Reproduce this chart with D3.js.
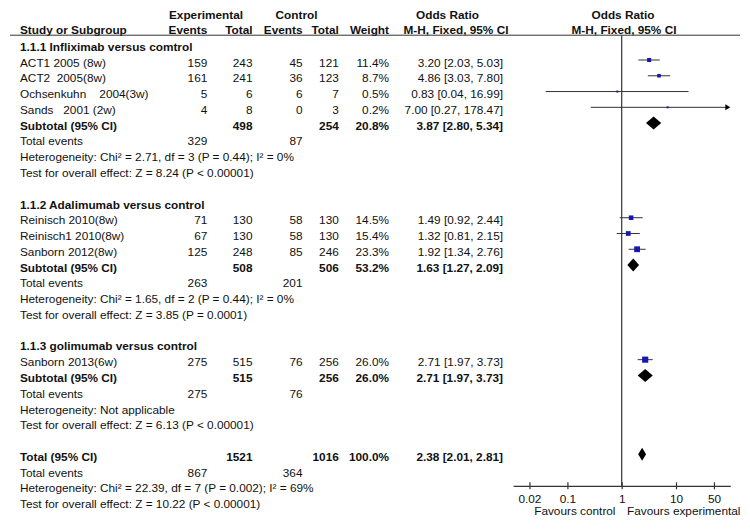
<!DOCTYPE html>
<html>
<head>
<meta charset="utf-8">
<script src="https://cdn.jsdelivr.net/npm/d3@7"></script>
<style>
  html, body { margin: 0; padding: 0; background: #fff; }
  svg text { font-family: "Liberation Sans", Arial, sans-serif; font-size: 11.8px; fill: #111; white-space: pre; }
  .b { font-weight: bold; }
</style>
</head>
<body>
<svg id="chart" width="750" height="529"></svg>
<script>
// ---- data ----
const studies = ["ACT1 2005 (8w)", "ACT2  2005(8w)", "Ochsenkuhn    2004(3w)", "Sands   2001 (2w)",
                 "Reinisch 2010(8w)", "Reinisch1 2010(8w)", "Sanborn 2012(8w)", "Sanborn 2013(6w)"];
const studyGroup = [0, 0, 0, 0, 1, 1, 1, 2];
const expEvents = [159, 161, 5, 4, 71, 67, 125, 275];
const expTotal  = [243, 241, 6, 8, 130, 130, 248, 515];
const ctlEvents = [45, 36, 6, 0, 58, 58, 85, 76];
const ctlTotal  = [121, 123, 7, 3, 130, 130, 246, 256];
const weights   = [11.4, 8.7, 0.5, 0.2, 14.5, 15.4, 23.3, 26.0];
const oddsRatio = [3.20, 4.86, 0.83, 7.00, 1.49, 1.32, 1.92, 2.71];
const ciLow     = [2.03, 3.03, 0.04, 0.27, 0.92, 0.81, 1.34, 1.97];
const ciHigh    = [5.03, 7.80, 16.99, 178.47, 2.44, 2.15, 2.76, 3.73];

const groupTitles   = ["1.1.1 Infliximab versus comtrol", "1.1.2 Adalimumab versus control", "1.1.3 golimumab versus control"];
const subExpTotal   = [498, 508, 515];
const subCtlTotal   = [254, 506, 256];
const subWeight     = [20.8, 53.2, 26.0];
const subOR         = [3.87, 1.63, 2.71];
const subLow        = [2.80, 1.27, 1.97];
const subHigh       = [5.34, 2.09, 3.73];
const subExpEvents  = [329, 263, 275];
const subCtlEvents  = [87, 201, 76];
const subHet = ["Heterogeneity: Chi\u00b2 = 2.71, df = 3 (P = 0.44); I\u00b2 = 0%",
                "Heterogeneity: Chi\u00b2 = 1.65, df = 2 (P = 0.44); I\u00b2 = 0%",
                "Heterogeneity: Not applicable"];
const subTest = ["Test for overall effect: Z = 8.24 (P < 0.00001)",
                 "Test for overall effect: Z = 3.85 (P = 0.0001)",
                 "Test for overall effect: Z = 6.13 (P < 0.00001)"];

const totalExpTotal = 1521, totalCtlTotal = 1016, totalWeight = 100.0;
const totalOR = 2.38, totalLow = 2.01, totalHigh = 2.81;
const totalExpEvents = 867, totalCtlEvents = 364;
const totalHet  = "Heterogeneity: Chi\u00b2 = 22.39, df = 7 (P = 0.002); I\u00b2 = 69%";
const totalTest = "Test for overall effect: Z = 10.22 (P < 0.00001)";

const tickValues = [0.02, 0.1, 1, 10, 50];
const tickLabels = ["0.02", "0.1", "1", "10", "50"];
const axisDomain = [0.01, 100];

// ---- layout ----
const svg = d3.select("#chart");
const rowY = d3.scaleLinear().domain([3, 28]).range([60, 454.3]);   // row centre
const x = d3.scaleLog().domain(axisDomain).range([513.1, 730.3]);
const colX = { label: 20, expEv: 207.3, expTot: 252.5, ctlEv: 302.5, ctlTot: 338.8, weight: 389, or: 503 };
const textOff = 6.6;
const blue = "#1616b4", ink = "#333";
const fmt2 = d3.format(".2f"), fmt1 = d3.format(".1f");
const orText = (o, l, h) => `${fmt2(o)} [${fmt2(l)}, ${fmt2(h)}]`;

function txt(xp, y, s, anchor, bold) {
  svg.append("text").attr("x", xp).attr("y", y).attr("text-anchor", anchor || "start")
     .attr("class", bold ? "b" : null).text(s);
}

// header
txt(206, 19.2, "Experimental", "middle", true);
txt(296.5, 19.2, "Control", "middle", true);
txt(447.5, 19.2, "Odds Ratio", "middle", true);
txt(623, 19.2, "Odds Ratio", "middle", true);
const hy = 34.2;
txt(colX.label, hy, "Study or Subgroup", "start", true);
txt(colX.expEv, hy, "Events", "end", true);
txt(colX.expTot, hy, "Total", "end", true);
txt(colX.ctlEv, hy, "Events", "end", true);
txt(colX.ctlTot, hy, "Total", "end", true);
txt(colX.weight, hy, "Weight", "end", true);
txt(456, hy, "M-H, Fixed, 95% CI", "middle", true);
txt(624, hy, "M-H, Fixed, 95% CI", "middle", true);
const lineY = 35.2;
svg.append("line").attr("x1", 10).attr("x2", 740).attr("y1", lineY).attr("y2", lineY)
   .attr("stroke", ink).attr("stroke-width", 1);

// build rows
let r = 2;
function diamond(o, l, h, yc, hh) {
  const pts = [[x(l), yc], [x(o), yc - hh], [x(h), yc], [x(o), yc + hh]];
  svg.append("path").attr("d", d3.line()(pts) + "Z").attr("fill", "#000");
}
for (let g = 0; g < groupTitles.length; g++) {
  txt(colX.label, rowY(r) + textOff, groupTitles[g], "start", true); r++;
  studies.forEach((s, i) => {
    if (studyGroup[i] !== g) return;
    const yc = rowY(r), yt = yc + textOff;
    txt(colX.label, yt, s);
    txt(colX.expEv, yt, String(expEvents[i]), "end");
    txt(colX.expTot, yt, String(expTotal[i]), "end");
    txt(colX.ctlEv, yt, String(ctlEvents[i]), "end");
    txt(colX.ctlTot, yt, String(ctlTotal[i]), "end");
    txt(colX.weight, yt, fmt1(weights[i]) + "%", "end");
    txt(colX.or, yt, orText(oddsRatio[i], ciLow[i], ciHigh[i]), "end");
    // CI line
    const lo = Math.max(ciLow[i], axisDomain[0]), hi = Math.min(ciHigh[i], axisDomain[1]);
    const x1 = x(lo), x2 = x(hi);
    const clipped = ciHigh[i] > axisDomain[1];
    svg.append("line").attr("x1", x1).attr("x2", clipped ? x2 - 4 : x2).attr("y1", yc).attr("y2", yc)
       .attr("stroke", ink).attr("stroke-width", 1);
    if (clipped) {
      svg.append("path").attr("d", d3.line()([[x2 - 5, yc - 3], [x2, yc], [x2 - 5, yc + 3]]) + "Z").attr("fill", "#000");
    }
    const sz = Math.max(2, 1.2 * Math.sqrt(weights[i]));
    svg.append("rect").attr("x", x(oddsRatio[i]) - sz / 2).attr("y", yc - sz / 2)
       .attr("width", sz).attr("height", sz).attr("fill", blue);
    r++;
  });
  // subtotal
  let yc = rowY(r), yt = yc + textOff;
  txt(colX.label, yt, "Subtotal (95% CI)", "start", true);
  txt(colX.expTot, yt, String(subExpTotal[g]), "end", true);
  txt(colX.ctlTot, yt, String(subCtlTotal[g]), "end", true);
  txt(colX.weight, yt, fmt1(subWeight[g]) + "%", "end", true);
  txt(colX.or, yt, orText(subOR[g], subLow[g], subHigh[g]), "end", true);
  diamond(subOR[g], subLow[g], subHigh[g], yc, 6.5);
  r++;
  yt = rowY(r) + textOff;
  txt(colX.label, yt, "Total events");
  txt(colX.expEv, yt, String(subExpEvents[g]), "end");
  txt(colX.ctlEv, yt, String(subCtlEvents[g]), "end");
  r++;
  txt(colX.label, rowY(r) + textOff, subHet[g]); r++;
  txt(colX.label, rowY(r) + textOff, subTest[g]); r++;
  r++; // blank
}
// overall total
{
  const yc = rowY(r), yt = yc + textOff;
  txt(colX.label, yt, "Total (95% CI)", "start", true);
  txt(colX.expTot, yt, String(totalExpTotal), "end", true);
  txt(colX.ctlTot, yt, String(totalCtlTotal), "end", true);
  txt(colX.weight, yt, fmt1(totalWeight) + "%", "end", true);
  txt(colX.or, yt, orText(totalOR, totalLow, totalHigh), "end", true);
  diamond(totalOR, totalLow, totalHigh, yc, 6.5);
  r++;
  let y2 = rowY(r) + textOff;
  txt(colX.label, y2, "Total events");
  txt(colX.expEv, y2, String(totalExpEvents), "end");
  txt(colX.ctlEv, y2, String(totalCtlEvents), "end");
  r++;
  txt(colX.label, rowY(r) + textOff, totalHet);
  const axisY = rowY(r);
  r++;
  txt(colX.label, rowY(r) + textOff, totalTest);

  // null line
  svg.append("line").attr("x1", x(1)).attr("x2", x(1)).attr("y1", lineY).attr("y2", axisY)
     .attr("stroke", ink).attr("stroke-width", 1.2);

  // axis
  const axis = d3.axisBottom(x).tickValues(tickValues).tickFormat((d, i) => tickLabels[i])
                 .tickSizeOuter(0).tickSizeInner(3.5).tickPadding(6);
  const ag = svg.append("g").attr("transform", `translate(0,${axisY})`).call(axis);
  ag.select(".domain").attr("stroke", ink).attr("stroke-width", 1.2);
  ag.selectAll(".tick line").attr("y1", -3.5).attr("y2", 3.5).attr("stroke", ink).attr("stroke-width", 1.2);
  ag.selectAll(".tick text").attr("y", 16.8).attr("dy", 0)
    .style("font-family", '"Liberation Sans", Arial, sans-serif').style("font-size", "11.8px").attr("fill", "#111");
  txt(615.5, axisY + 29.5, "Favours control", "end");
  txt(627, axisY + 29.5, "Favours experimental", "start");
}
</script>
</body>
</html>
